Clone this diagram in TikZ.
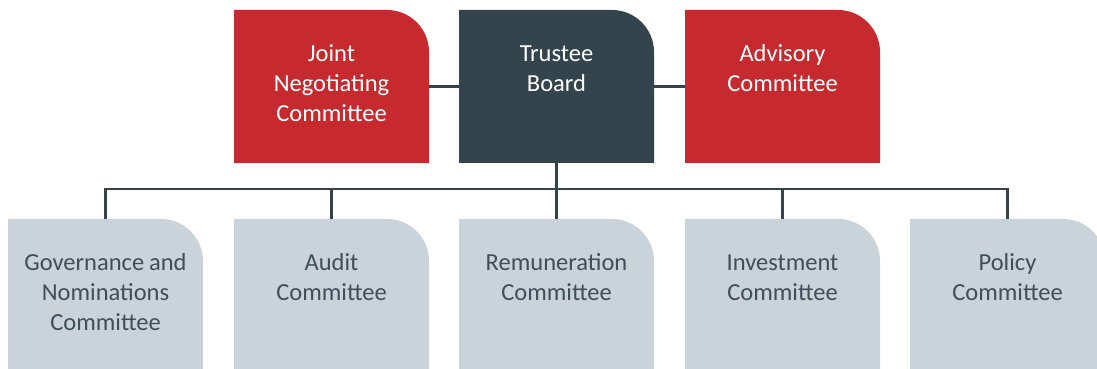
\documentclass[tikz,border=0pt]{standalone}
\usepackage{fontspec}
\setmainfont{Carlito}
\definecolor{boardgrey}{HTML}{34444D}
\definecolor{cttred}{HTML}{C6292E}
\definecolor{cttgrey}{HTML}{CAD3D9}
\definecolor{cttext}{HTML}{3F4E58}

\tikzset{
  box/.style = {minimum width = 195pt, minimum height = 153pt, inner sep = 0pt,
    text width = 190pt, align = center, text height = 51.5pt, text depth = 101.5pt,
    font = \fontsize{24.5}{30}\selectfont,
    path picture = {\fill [#1] (path picture bounding box.south west)
      |- ([xshift = -42pt]path picture bounding box.north east)
      arc [start angle = 90, end angle = 0, radius = 42pt]
      |- (path picture bounding box.south west) -- cycle;}},
  topbox/.style = {box = #1, text = white},
  subbox/.style = {box = cttgrey, text = cttext},
  link/.style = {draw = boardgrey, line width = 2.5pt}
}

\begin{document}
\begin{tikzpicture}[x = 1pt, y = 1pt]
\clip (0, 0) rectangle (1097, 369);
%\draw[very thin, color = gray](0, 0) grid [step = 50] (1097, 369);
% board and its two neighbours
\node [topbox = cttred] (jnc) at (331.5, 282.5) {Joint\\Negotiating\\Committee};
\node [topbox = boardgrey] (board) at (556.5, 282.5) {Trustee\\Board};
\node [topbox = cttred] (adv) at (782.5, 282.5) {Advisory\\Committee};
% committees below the board
\node [subbox] (gov) at (105.5, 73.5) {Governance\hspace{0.2em}and\\Nominations\\Committee};
\node [subbox] (audit) at (331.5, 73.5) {Audit\\Committee};
\node [subbox] (remun) at (556.5, 73.5) {Remuneration\\Committee};
\node [subbox] (invest) at (782.5, 73.5) {Investment\\Committee};
\node [subbox] (policy) at (1007.5, 73.5) {Policy\\Committee};
% connectors
\draw [link] (jnc.east) -- (board.west);
\draw [link] (board.east) -- (adv.west);
\draw [link] (board.south) -- ++(0, -26) coordinate (bus);
\foreach \c in {gov, audit, remun, invest, policy}
  \draw [link] (bus) -| (\c.north);
\end{tikzpicture}
\end{document}
